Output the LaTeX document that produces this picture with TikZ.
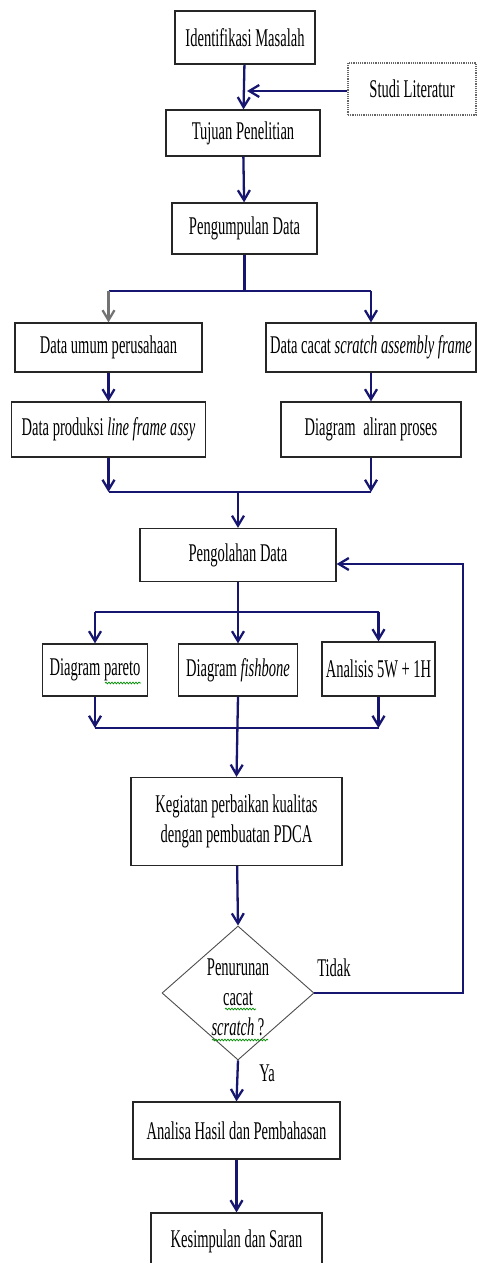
\documentclass[tikz,border=0pt]{standalone}
\usepackage{fontspec}
\setmainfont{Liberation Serif}[FakeStretch=0.57]
\usetikzlibrary{arrows.meta, shapes.geometric, decorations.pathmorphing}
\definecolor{flowblue}{RGB}{22,22,112}
\tikzset{
  proc box/.style={
    draw=black!85,
    line width=1.2pt,
    fill=white,
    inner sep=0pt,
    align=center,
  },
  flow/.style={
    draw=flowblue,
    line width=2.3pt,
    -{Straight Barb[length=10pt, width=12pt]},
  },
  flow line/.style={draw=flowblue, line width=2.3pt},
  squiggle/.style={
    draw=green!55!black,
    line width=0.7pt,
    decorate,
    decoration={snake, amplitude=0.9pt, segment length=3pt},
  },
}

\begin{document}
\begin{tikzpicture}[x=1pt, y=-1pt, font=\fontsize{25.5}{30}\selectfont]
      \useasboundingbox (0,0) rectangle (477,1263);

      \node[proc box, minimum width=140, minimum height=53] (ident)  at (245,37.5) {Identifikasi Masalah};
      \node[proc box, minimum width=128, minimum height=52, draw=black!60, densely dotted] (studi) at (412,89) {Studi Literatur};
      \node[proc box, minimum width=154, minimum height=46] (tujuan) at (243,133) {Tujuan Penelitian};
      \node[proc box, minimum width=145, minimum height=51] (kumpul) at (244.5,228.5) {Pengumpulan Data};

      \node[proc box, minimum width=187, minimum height=49] (umum)     at (108.5,347.5) {Data umum perusahaan};
      \node[proc box, minimum width=210, minimum height=49] (cacat)    at (371,347.5) {Data cacat \textit{scratch assembly frame}};
      \node[proc box, minimum width=194, minimum height=55] (produksi) at (108.5,429.5) {Data produksi \textit{line frame assy}};
      \node[proc box, minimum width=180, minimum height=55] (aliran)   at (371,429.5) {Diagram\, aliran proses};

      \node[proc box, minimum width=196, minimum height=53] (olah) at (238,555) {Pengolahan Data};

      \node[proc box, minimum width=105, minimum height=52] (pareto)   at (95,670) {Diagram pareto};
      \node[proc box, minimum width=119, minimum height=52] (fishbone) at (238,670) {Diagram \textit{fishbone}};
      \node[proc box, minimum width=113, minimum height=54] (analisis) at (378.5,669) {Analisis 5W + 1H};

      \node[proc box, minimum width=211, minimum height=88] (kegiatan) at (236.5,821.5) {Kegiatan perbaikan kualitas\\dengan pembuatan PDCA};

      \node[diamond, draw=black!70, line width=0.9pt, minimum width=152, minimum height=134, inner sep=0pt] (cek) at (238,993) {};
      \node[align=center] (cektext) at (238,997) {Penurunan\\cacat\\\textit{scratch} ?};

      \node[proc box, minimum width=207, minimum height=57] (analisa) at (236.5,1130.5) {Analisa Hasil dan Pembahasan};
      \node[proc box, minimum width=171, minimum height=56] (simpul)  at (236.5,1241) {Kesimpulan dan Saran};

      \node (tidak) at (334,968) {Tidak};
      \node (ya)    at (267,1073) {Ya};

      \coordinate (split1) at (244.5,291);
      \coordinate (join1)  at (238,492);
      \coordinate (split2) at (238,612);
      \coordinate (join2)  at (238,728);
      \coordinate (back)   at (463,564);

      \path[flow] (ident) edge (tujuan);
      \draw[flow] ([yshift=-2pt]studi.west) -- ([xshift=2pt,yshift=-2pt]ident.south |- studi.west);
      \path[flow] (tujuan) edge (kumpul);

      \draw[flow line] (kumpul.south) -- (split1);
      \draw[flow line] (split1 -| umum.north) -- (split1 -| cacat.north);
      \draw[flow, draw=black!55] (split1 -| umum.north) -- (umum.north);
      \draw[flow] (split1 -| cacat.north) -- (cacat.north);

      \path[flow] (umum) edge (produksi);
      \path[flow] (cacat) edge (aliran);

      \draw[flow] (produksi.south) -- (produksi.south |- join1);
      \draw[flow] (aliran.south) -- (aliran.south |- join1);
      \draw[flow line] (produksi.south |- join1) -- (aliran.south |- join1);
      \draw[flow] (join1) -- (olah.north);

      \draw[flow line] (olah.south) -- (split2);
      \draw[flow line] (split2 -| pareto.north) -- (split2 -| analisis.north);
      \draw[flow] (split2 -| pareto.north) -- (pareto.north);
      \draw[flow] (split2) -- (fishbone.north);
      \draw[flow] (split2 -| analisis.north) -- (analisis.north);

      \draw[flow] (pareto.south) -- (pareto.south |- join2);
      \draw[flow] (analisis.south) -- (analisis.south |- join2);
      \draw[flow line] (pareto.south |- join2) -- (analisis.south |- join2);
      \draw[flow] (fishbone.south) -- (kegiatan.north);

      \path[flow] (kegiatan) edge (cek.north);
      \draw[flow] (cek.east) -| (back) -- (olah.east |- back);
      \draw[flow] (cek.south) -- (analisa.north);
      \path[flow] (analisa) edge (simpul);

      % spell-check marks
      \draw[squiggle] (105,683) -- (141,683);
      \draw[squiggle] (225,1009) -- (256,1009);
      \draw[squiggle] (212,1040) -- (268,1040);
\end{tikzpicture}
\end{document}
